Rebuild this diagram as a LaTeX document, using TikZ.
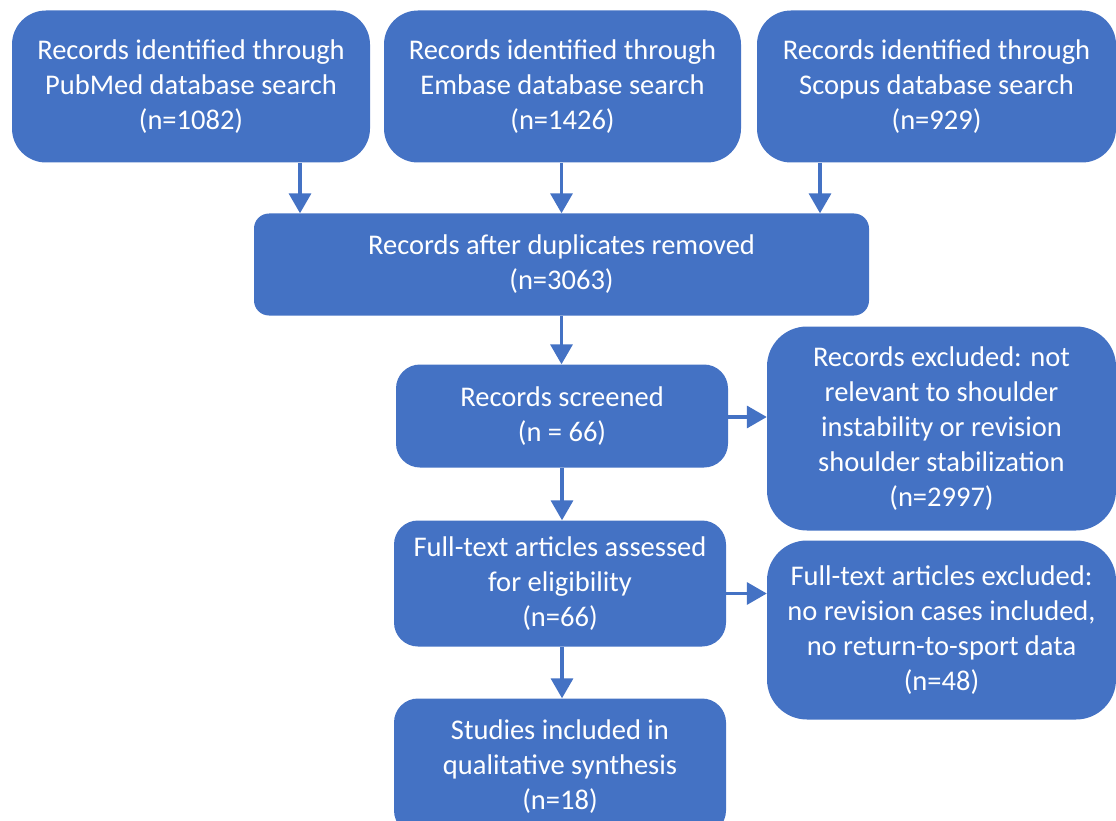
\documentclass[tikz,border=0pt]{standalone}
\usepackage{fontspec}
\setmainfont{Carlito}
\usepackage{xcolor}
\usetikzlibrary{arrows.meta,positioning,calc}
\definecolor{prismablue}{HTML}{4472C4}
\tikzset{
  stage/.style={fill=prismablue, draw=none, text=white, align=center, inner sep=0pt,
                font=\fontsize{28.5}{35}\selectfont, rounded corners=#1},
  stage/.default=24pt,
  flow/.style={draw=prismablue, line width=3.5pt, -{Triangle[width=22pt,length=20pt]}},
}

\begin{document}
\begin{tikzpicture}[x=1pt, y=-1pt]
    \useasboundingbox (0,0) rectangle (1116,821);
    % identification
    \node[stage=34pt, minimum width=358pt, minimum height=152pt] (pubmed) at (191,86.5)
      {Records identified through\\PubMed database search\\(n=1082)};
    \node[stage=34pt, minimum width=357pt, minimum height=152pt] (embase) at (562.5,86.5)
      {Records identified through\\Embase database search\\(n=1426)};
    \node[stage=34pt, minimum width=359pt, minimum height=152pt] (scopus) at (936.5,86.5)
      {Records identified through\\Scopus database search\\(n=929)};
    % screening
    \node[stage=15pt, minimum width=615pt, minimum height=102pt] (dedup) at (561.5,264.5)
      {Records after duplicates removed\\(n=3063)};
    \node[stage, minimum width=332pt, minimum height=103pt] (screen) at (562,416)
      {Records screened\\(n = 66)};
    \node[stage=40pt, minimum width=349pt, minimum height=204pt] (excl) at (941.5,428.5)
      {Records excluded: not\\relevant to shoulder\\instability or revision\\shoulder stabilization\\(n=2997)};
    % eligibility
    \node[stage, minimum width=332pt, minimum height=126pt] (fulltext) at (560,583.5)
      {Full-text articles assessed\\for eligibility\\(n=66)};
    \node[stage=40pt, minimum width=349pt, minimum height=179pt] (ftexcl) at (941.5,630)
      {Full-text articles excluded:\\no revision cases included,\\no return-to-sport data\\(n=48)};
    % included
    \node[stage, minimum width=332pt, minimum height=136pt] (incl) at (560,766.5)
      {Studies included in\\qualitative synthesis\\(n=18)};
    \draw[flow] ([xshift=109pt]pubmed.south) -- ([xshift=109pt]pubmed.south |- dedup.north);
    \draw[flow] ([xshift=-1pt]embase.south) -- ([xshift=-1pt]embase.south |- dedup.north);
    \draw[flow] ([xshift=-116.5pt]scopus.south) -- ([xshift=-116.5pt]scopus.south |- dedup.north);
    \draw[flow] (dedup.south) -- (dedup.south |- screen.north);
    \draw[flow] (screen.south) -- (screen.south |- fulltext.north);
    \draw[flow] ([xshift=2pt]fulltext.south) -- ([xshift=2pt]fulltext.south |- incl.north);
    \draw[flow] ([yshift=-1pt]screen.east) -- ([yshift=-1pt]screen.east -| excl.west);
    \draw[flow] ([yshift=-10pt]fulltext.east) -- ([yshift=-10pt]fulltext.east -| ftexcl.west);
\end{tikzpicture}
\end{document}
